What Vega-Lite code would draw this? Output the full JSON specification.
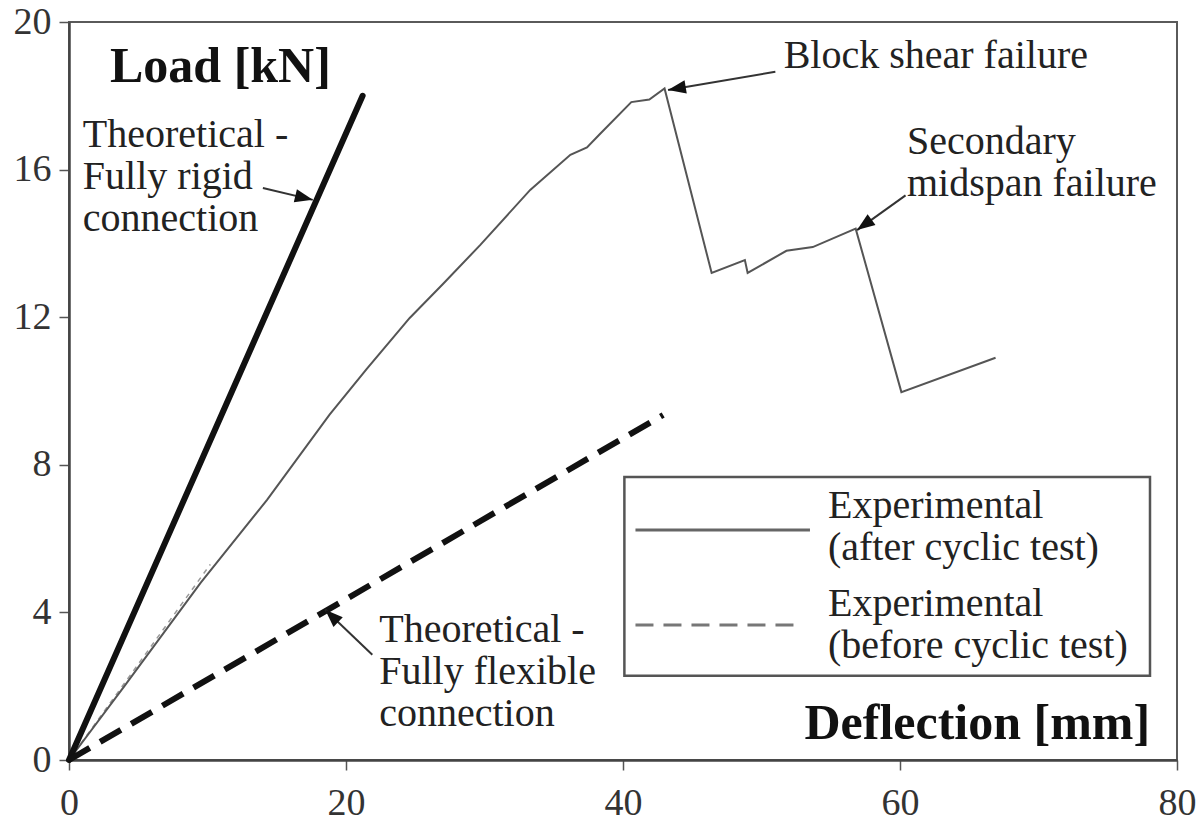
{
  "$schema": "https://vega.github.io/schema/vega-lite/v6.json",
  "width": 1108,
  "height": 738,
  "autosize": {"type": "none"},
  "padding": {"left": 69, "top": 22, "right": 22, "bottom": 61},
  "background": "white",
  "config": {
    "view": {"stroke": "#5a5a5a", "strokeWidth": 2},
    "text": {"font": "Liberation Serif", "color": "#222"}
  },
  "datasets": {
    "curves": [
      {"s": "rigid", "x": 0, "y": 0},
      {"s": "rigid", "x": 21.2, "y": 18.0},
      {"s": "flexible", "x": 0, "y": 0},
      {"s": "flexible", "x": 42.9, "y": 9.35},
      {"s": "before", "x": 0, "y": 0},
      {"s": "before", "x": 10.2, "y": 5.3},
      {"s": "after", "x": 0, "y": 0},
      {"s": "after", "x": 4, "y": 2.0},
      {"s": "after", "x": 9.5, "y": 4.8},
      {"s": "after", "x": 14.3, "y": 7.05},
      {"s": "after", "x": 18.8, "y": 9.35},
      {"s": "after", "x": 21.5, "y": 10.6},
      {"s": "after", "x": 24.6, "y": 11.98},
      {"s": "after", "x": 27.0, "y": 12.9},
      {"s": "after", "x": 29.7, "y": 13.96},
      {"s": "after", "x": 33.3, "y": 15.45},
      {"s": "after", "x": 36.2, "y": 16.4},
      {"s": "after", "x": 37.4, "y": 16.6},
      {"s": "after", "x": 38.3, "y": 16.95},
      {"s": "after", "x": 40.6, "y": 17.83},
      {"s": "after", "x": 41.9, "y": 17.9},
      {"s": "after", "x": 43.0, "y": 18.2},
      {"s": "after", "x": 46.4, "y": 13.2},
      {"s": "after", "x": 48.8, "y": 13.55},
      {"s": "after", "x": 49.0, "y": 13.2},
      {"s": "after", "x": 51.8, "y": 13.8},
      {"s": "after", "x": 53.7, "y": 13.9},
      {"s": "after", "x": 56.8, "y": 14.4},
      {"s": "after", "x": 60.1, "y": 9.97},
      {"s": "after", "x": 66.9, "y": 10.9}
    ],
    "legendbox": [{"x": 40.1, "x2": 78.05, "y": 2.28, "y2": 7.67}],
    "legendlines": [
      {"s": "after", "x": 40.9, "x2": 53.5, "y": 6.23},
      {"s": "before", "x": 40.9, "x2": 53.0, "y": 3.66}
    ],
    "arrows": [
      {"a": "rigid", "x": 17.6, "y": 15.18, "x2": 14.0, "y2": 15.5},
      {"a": "block", "x": 43.25, "y": 18.16, "x2": 51.0, "y2": 18.65},
      {"a": "secondary", "x": 56.9, "y": 14.36, "x2": 60.4, "y2": 15.3},
      {"a": "flexible", "x": 18.5, "y": 4.07, "x2": 21.9, "y2": 2.85}
    ],
    "labels": [
      {"w": "normal", "x": 1.0, "y": 16.61, "text": "Theoretical -\nFully rigid\nconnection"},
      {"w": "normal", "x": 51.6, "y": 18.75, "text": "Block shear failure"},
      {"w": "normal", "x": 60.5, "y": 16.42, "text": "Secondary\nmidspan failure"},
      {"w": "normal", "x": 22.4, "y": 3.2, "text": "Theoretical -\nFully flexible\nconnection"},
      {"w": "normal", "x": 54.8, "y": 6.56, "text": "Experimental\n(after cyclic test)"},
      {"w": "normal", "x": 54.8, "y": 3.9, "text": "Experimental\n(before cyclic test)"},
      {"w": "bold", "x": 2.96, "y": 18.37, "text": "Load [kN]"},
      {"w": "bold", "x": 53.1, "y": 0.57, "text": "Deflection [mm]"}
    ]
  },
  "encoding": {
    "x": {
      "field": "x", "type": "quantitative", "title": null,
      "scale": {"domain": [0, 80], "nice": false, "zero": true},
      "axis": {
        "values": [0, 20, 40, 60, 80], "grid": false, "tickSize": 10, "tickWidth": 1.5,
        "tickColor": "#555", "domainColor": "#444", "domainWidth": 2.5,
        "labelFont": "Liberation Serif", "labelFontSize": 38, "labelColor": "#333",
        "labelPadding": 14, "labelFlush": false, "labelOverlap": false
      }
    },
    "y": {
      "field": "y", "type": "quantitative", "title": null,
      "scale": {"domain": [0, 20], "nice": false, "zero": true},
      "axis": {
        "values": [0, 4, 8, 12, 16, 20], "grid": false, "tickSize": 10, "tickWidth": 1.5,
        "tickColor": "#555", "domainColor": "#444", "domainWidth": 2.5,
        "labelFont": "Liberation Serif", "labelFontSize": 38, "labelColor": "#333",
        "labelPadding": 8, "labelFlush": false, "labelOverlap": false
      }
    }
  },
  "layer": [
    {
      "data": {"name": "legendbox"},
      "mark": {"type": "rect", "fill": "white", "stroke": "#555", "strokeWidth": 2.5},
      "encoding": {"x2": {"field": "x2"}, "y2": {"field": "y2"}}
    },
    {
      "data": {"name": "legendlines"},
      "transform": [{"filter": "datum.s === 'after'"}],
      "mark": {"type": "rule", "color": "#666", "strokeWidth": 3},
      "encoding": {"x2": {"field": "x2"}}
    },
    {
      "data": {"name": "legendlines"},
      "transform": [{"filter": "datum.s === 'before'"}],
      "mark": {"type": "rule", "color": "#777", "strokeWidth": 3, "strokeDash": [18, 10]},
      "encoding": {"x2": {"field": "x2"}}
    },
    {
      "data": {"name": "curves"},
      "transform": [{"filter": "datum.s === 'before'"}],
      "mark": {"type": "line", "color": "#999", "strokeWidth": 1.5, "strokeDash": [5, 5]},
      "encoding": {}
    },
    {
      "data": {"name": "curves"},
      "transform": [{"filter": "datum.s === 'after'"}],
      "mark": {"type": "line", "color": "#555", "strokeWidth": 2},
      "encoding": {}
    },
    {
      "data": {"name": "curves"},
      "transform": [{"filter": "datum.s === 'rigid'"}],
      "mark": {"type": "line", "color": "#111", "strokeWidth": 6, "strokeCap": "round"},
      "encoding": {}
    },
    {
      "data": {"name": "curves"},
      "transform": [{"filter": "datum.s === 'flexible'"}],
      "mark": {"type": "line", "color": "#111", "strokeWidth": 6, "strokeDash": [24, 12]},
      "encoding": {}
    },
    {
      "data": {"name": "arrows"},
      "mark": {"type": "rule", "color": "#333", "strokeWidth": 2},
      "encoding": {"x2": {"field": "x2"}, "y2": {"field": "y2"}}
    },
    {
      "data": {"name": "arrows"},
      "transform": [{"filter": "datum.a === 'rigid'"}],
      "mark": {"type": "point", "shape": "M0,0L-0.6,1.6L0.6,1.6Z", "filled": true, "size": 500, "color": "#111", "opacity": 1, "angle": 103.5}
    },
    {
      "data": {"name": "arrows"},
      "transform": [{"filter": "datum.a === 'block'"}],
      "mark": {"type": "point", "shape": "M0,0L-0.6,1.6L0.6,1.6Z", "filled": true, "size": 500, "color": "#111", "opacity": 1, "angle": 260.5}
    },
    {
      "data": {"name": "arrows"},
      "transform": [{"filter": "datum.a === 'secondary'"}],
      "mark": {"type": "point", "shape": "M0,0L-0.6,1.6L0.6,1.6Z", "filled": true, "size": 500, "color": "#111", "opacity": 1, "angle": 234}
    },
    {
      "data": {"name": "arrows"},
      "transform": [{"filter": "datum.a === 'flexible'"}],
      "mark": {"type": "point", "shape": "M0,0L-0.6,1.6L0.6,1.6Z", "filled": true, "size": 500, "color": "#111", "opacity": 1, "angle": 313.8}
    },
    {
      "data": {"name": "labels"},
      "transform": [{"filter": "datum.w === 'normal'"}],
      "mark": {"type": "text", "align": "left", "baseline": "alphabetic", "fontSize": 40, "lineBreak": "\n", "lineHeight": 42, "font": "Liberation Serif", "color": "#222"},
      "encoding": {"text": {"field": "text"}}
    },
    {
      "data": {"name": "labels"},
      "transform": [{"filter": "datum.w === 'bold'"}],
      "mark": {"type": "text", "align": "left", "baseline": "alphabetic", "fontSize": 50, "fontWeight": "bold", "font": "Liberation Serif", "color": "#111"},
      "encoding": {"text": {"field": "text"}}
    }
  ]
}
